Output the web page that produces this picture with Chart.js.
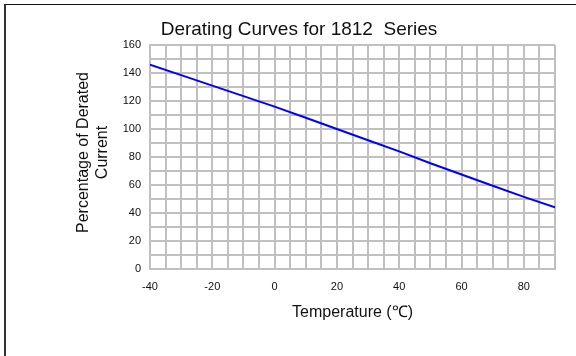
<!DOCTYPE html>
<html>
<head>
<meta charset="utf-8">
<script src="https://cdn.jsdelivr.net/npm/chart.js@4/dist/chart.umd.min.js"></script>
<style>
  html, body { margin: 0; padding: 0; background: #fff; }
  #wrap { position: relative; width: 576px; height: 356px; overflow: hidden; }
  #frame { position: absolute; left: 4px; top: 4px; width: 700px; height: 500px;
           border-left: 2px solid #333; border-top: 1px solid #111; }
  #chart { position: absolute; left: 0; top: 0; }
</style>
</head>
<body>
<div id="wrap">
  <div id="frame"></div>
  <canvas id="chart" width="576" height="356"></canvas>
</div>
<script>
// values
const temperatures = [-40, -30, -20, -10, 0, 10, 20, 30, 40, 50, 60, 70, 80, 90];
const deratedPct = [146, 138.5, 131, 123.5, 116, 108, 100, 92, 84, 75.5, 67.5, 59.5, 51.5, 44];
const xTickLabels = [-40, -20, 0, 20, 40, 60, 80];
const yTickLabels = [0, 20, 40, 60, 80, 100, 120, 140, 160];
const yTitleLines = ['Percentage of Derated', 'Current'];

const FONT = "'Liberation Sans', Arial, Helvetica, sans-serif";
const GRID = '#c0c0c0';

// y-axis title is drawn by hand so it sits where the reference has it
const yTitlePlugin = {
  id: 'yTitle',
  afterDraw(chart) {
    const ctx = chart.ctx;
    ctx.save();
    ctx.font = '16px ' + FONT;
    ctx.fillStyle = '#111';
    ctx.textAlign = 'center';
    ctx.textBaseline = 'alphabetic';
    const xs = [88, 106.5];
    yTitleLines.forEach((line, i) => {
      ctx.save();
      ctx.translate(xs[i], 152.5);
      ctx.rotate(-Math.PI / 2);
      ctx.fillText(line, 0, 0);
      ctx.restore();
    });
    ctx.restore();
  }
};

new Chart(document.getElementById('chart'), {
  type: 'line',
  data: {
    datasets: [{
      label: '1812',
      data: temperatures.map((t, i) => ({ x: t, y: deratedPct[i] })),
      borderColor: '#0000ff',
      borderWidth: 2,
      pointRadius: 0,
      tension: 0,
      fill: false
    }]
  },
  options: {
    responsive: false,
    animation: false,
    events: [],
    layout: { padding: { left: 43, right: 21, top: 0, bottom: 0 } },
    plugins: {
      legend: { display: false },
      tooltip: { enabled: false },
      title: {
        display: true,
        text: 'Derating Curves for 1812  Series',
        color: '#111',
        font: { family: FONT, size: 19, weight: 'normal', lineHeight: 1.2 },
        padding: { top: 18.6, bottom: 3.6 }
      }
    },
    scales: {
      x: {
        type: 'linear',
        min: -40,
        max: 90,
        afterFit: s => { s.height = 87; },
        grid: { color: GRID, lineWidth: 2, drawTicks: false },
        border: { color: GRID, width: 2 },
        ticks: {
          stepSize: 5,
          autoSkip: false,
          maxRotation: 0,
          padding: 11,
          color: '#111',
          font: { family: FONT, size: 11 },
          callback: v => xTickLabels.includes(v) ? String(v) : ''
        },
        title: {
          display: true,
          text: 'Temperature (℃)',
          color: '#111',
          font: { family: FONT, size: 16, lineHeight: 1.2 },
          padding: { top: 0, bottom: 34 }
        }
      },
      y: {
        min: 0,
        max: 160,
        afterFit: s => { s.width = 107; },
        grid: { color: GRID, lineWidth: 2, drawTicks: false },
        border: { color: GRID, width: 2 },
        ticks: {
          stepSize: 10,
          autoSkip: false,
          padding: 9,
          color: '#111',
          font: { family: FONT, size: 11 },
          callback: v => yTickLabels.includes(v) ? String(v) : ''
        }
      }
    }
  },
  plugins: [yTitlePlugin]
});
</script>
</body>
</html>
